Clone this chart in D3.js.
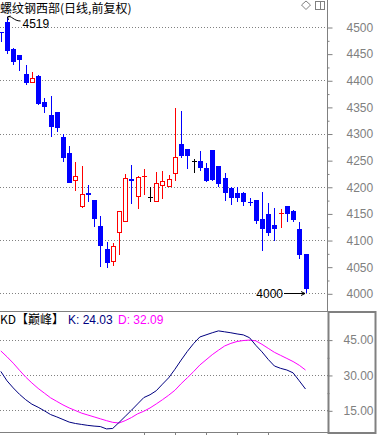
<!DOCTYPE html>
<html>
<head>
<meta charset="utf-8">
<script src="https://cdn.jsdelivr.net/npm/d3@7"></script>
<style>
body { margin: 0; background: #fff; }
svg { display: block; }
</style>
</head>
<body>
<svg id="chart" width="377" height="435"></svg>
<script>
// Daily candles, oldest first
var opens  = [4490,4510,4458,4447,4412,4394,4408,4359,4335,4341,4294,4264,4210,4162,4188,4175,4126,4083,4059,4114,
              4134,4215,4180,4219,4180,4171,4201,4200,4224,4281,4271,4249,4249,4235,4269,4239,4216,4197,4189,4189,
              4172,4175,4140,4149,4128,4149,4163,4155,4121,4073];
var highs  = [4491,4519,4461,4447,4429,4416,4409,4366,4370,4341,4300,4277,4247,4239,4203,4175,4145,4096,4094,4155,
              4224,4241,4221,4233,4200,4228,4230,4222,4348,4342,4271,4253,4267,4245,4269,4239,4225,4200,4200,4190,
              4178,4176,4191,4169,4160,4158,4163,4157,4133,4073];
var lows   = [4472,4450,4429,4418,4391,4394,4354,4339,4293,4303,4247,4207,4193,4161,4171,4125,4050,4048,4052,4072,
              4134,4168,4158,4184,4172,4171,4177,4200,4210,4254,4234,4225,4230,4209,4211,4200,4174,4165,4172,4163,
              4163,4130,4080,4108,4099,4123,4133,4134,4064,4000];
var closes = [4489,4454,4435,4438,4395,4404,4355,4350,4313,4310,4254,4208,4220,4186,4185,4140,4089,4057,4089,4155,
              4216,4210,4218,4220,4180,4208,4210,4214,4255,4258,4258,4249,4235,4210,4213,4205,4188,4178,4178,4172,
              4169,4135,4121,4114,4121,4151,4149,4138,4071,4009];

// KD indicator
var kValues = [31.5,27.5,24.5,21.8,19.5,17.6,16.3,14.8,13.2,12.2,11.1,10.0,9.4,9.0,8.6,8.3,8.1,7.1,7.3,9.8,
               12.4,15.0,17.7,20.4,21.6,23.3,26.1,28.8,32.4,36.3,40.0,43.3,46.1,47.0,47.9,48.7,48.3,47.9,47.4,47.0,
               45.8,42.6,39.8,36.6,33.8,32.8,32.1,30.9,27.5,24.03];
var dValues = [40.2,37.7,35.0,32.0,29.1,26.6,24.3,22.3,20.3,18.8,17.3,16.0,14.9,13.8,13.0,12.2,11.4,10.6,9.9,9.6,
               10.6,11.9,13.5,14.6,16.0,17.7,19.5,21.4,23.5,26.3,28.8,31.4,34.2,36.4,38.6,40.5,42.3,43.4,44.2,44.6,
               44.8,44.5,43.0,41.3,39.6,38.3,37.0,35.7,34.1,32.09];

var priceTicks = [4000,4050,4100,4150,4200,4250,4300,4350,4400,4450,4500];
var priceMinor = [4025,4075,4125,4175,4225,4275,4325,4375,4425,4475];
var priceGrid  = [4000,4100,4200,4300,4400,4500];
var kdTicks = [15,30,45];
var kdMinor = [22.5,37.5];
var timeTicks = [23,28,33,38,43];   // candle index of the date marks

var title = "螺纹钢西部(日线,前复权)";

var grey = "#808080";
var svg = d3.select("#chart");
var axisX = 328;      // right price axis
var splitY = 311;     // border between the two panels

var x = d3.scaleLinear().domain([0, opens.length - 1]).range([0.8, 305.5]);
var y = d3.scaleLinear().domain([4000, 4500]).range([293.3, 27]);
var yk = d3.scaleLinear().domain([15, 45]).range([410.3, 339.6]);

svg.append("defs").append("clipPath").attr("id", "clipMain")
	.append("rect").attr("x", 0).attr("y", 0).attr("width", axisX).attr("height", splitY);
svg.select("defs").append("clipPath").attr("id", "clipKd")
	.append("rect").attr("x", 0).attr("y", splitY).attr("width", axisX).attr("height", 122);

//Dotted grids
svg.append("g").selectAll("line").data(priceGrid).enter().append("line")
	.attr("x1", 0).attr("x2", axisX)
	.attr("y1", d=>Math.round(y(d)) + 0.5).attr("y2", d=>Math.round(y(d)) + 0.5)
	.attr("stroke", grey).attr("stroke-dasharray", "1,2");
svg.append("g").selectAll("line").data(kdTicks).enter().append("line")
	.attr("x1", 0).attr("x2", axisX)
	.attr("y1", d=>Math.round(yk(d)) + 0.5).attr("y2", d=>Math.round(yk(d)) + 0.5)
	.attr("stroke", grey).attr("stroke-dasharray", "1,2");

//Candles
var main = svg.append("g").attr("clip-path", "url(#clipMain)");
main.selectAll(".candle").data(d3.range(opens.length)).enter().append("g")
	.attr("class", "candle")
	.each(function(i) {
		var g = d3.select(this);
		var cx = Math.round(x(i));
		var o = opens[i], c = closes[i];
		var col = c > o ? "#ff0000" : (c < o ? "#0000ff" : "#000000");
		var top = Math.round(y(Math.max(o, c)));
		var bot = Math.round(y(Math.min(o, c)));
		g.append("line")
			.attr("x1", cx + 0.5).attr("x2", cx + 0.5)
			.attr("y1", Math.round(y(highs[i]))).attr("y2", Math.round(y(lows[i])))
			.attr("stroke", col);
		if (bot - top < 2) {
			g.append("rect").attr("x", cx - 2).attr("y", top)
				.attr("width", 5).attr("height", Math.max(1, bot - top)).attr("fill", col);
		} else if (c > o) {
			g.append("rect").attr("x", cx - 1.5).attr("y", top + 0.5)
				.attr("width", 4).attr("height", bot - top - 1)
				.attr("fill", "#fff").attr("stroke", col);
		} else {
			g.append("rect").attr("x", cx - 2).attr("y", top)
				.attr("width", 5).attr("height", bot - top).attr("fill", col);
		}
	});

//High / low marks
var iHigh = highs.indexOf(d3.max(highs));
var iLow = lows.indexOf(d3.min(lows));
var hx = Math.round(x(iHigh)) + 0.5, hy = Math.round(y(highs[iHigh]));
main.append("path")
	.attr("d", "M" + hx + "," + hy + " l3,-1 M" + hx + "," + hy + " l1,3 M" + hx + "," + hy +
		" c4,-2 6,4 13,4")
	.attr("fill", "none").attr("stroke", "#000");
main.append("text").attr("x", hx + 15).attr("y", hy + 11)
	.attr("font-family", "Liberation Sans, Arial, sans-serif").attr("font-size", 12)
	.text(d3.max(highs));
var lx = Math.round(x(iLow)) - 1, ly = Math.round(y(lows[iLow])) + 0.5;
main.append("path")
	.attr("d", "M" + (lx - 21) + "," + ly + " H" + lx + " M" + (lx - 4) + "," + (ly - 2) + " L" + lx + "," + ly +
		" L" + (lx - 4) + "," + (ly + 2))
	.attr("fill", "none").attr("stroke", "#000");
main.append("text").attr("x", lx - 22).attr("y", ly + 4).attr("text-anchor", "end")
	.attr("font-family", "Liberation Sans, Arial, sans-serif").attr("font-size", 12)
	.text(d3.min(lows));

//KD lines
var kd = svg.append("g").attr("clip-path", "url(#clipKd)");
var line = d3.line().x((d, i)=>x(i)).y(d=>yk(d));
kd.append("path").datum(dValues).attr("d", line).attr("fill", "none").attr("stroke", "#ff00ff");
kd.append("path").datum(kValues).attr("d", line).attr("fill", "none").attr("stroke", "#000080");

//Frame lines
svg.append("line").attr("x1", axisX - 0.5).attr("x2", axisX - 0.5).attr("y1", 0).attr("y2", splitY)
	.attr("stroke", grey);
svg.append("line").attr("x1", 0).attr("x2", axisX).attr("y1", splitY + 0.5).attr("y2", splitY + 0.5)
	.attr("stroke", grey);
svg.append("line").attr("x1", 0).attr("x2", axisX).attr("y1", 432.5).attr("y2", 432.5)
	.attr("stroke", grey);
svg.append("g").selectAll("line").data(timeTicks).enter().append("line")
	.attr("x1", d=>Math.round(x(d)) + 0.5).attr("x2", d=>Math.round(x(d)) + 0.5)
	.attr("y1", 432).attr("y2", 435).attr("stroke", grey);
svg.append("rect").attr("x", axisX + 0.5).attr("y", splitY + 1).attr("width", 47).attr("height", 121)
	.attr("fill", "none").attr("stroke", grey).attr("stroke-width", 2);

//Axes
function styleAxis(g) {
	g.select(".domain").remove();
	g.selectAll(".tick line").attr("stroke", grey);
	g.selectAll(".tick text").attr("fill", grey)
		.attr("font-family", "Liberation Sans, Arial, sans-serif").attr("font-size", 12);
}
svg.append("g").attr("transform", "translate(" + (axisX - 0.5) + ",0.5)")
	.call(d3.axisRight(y).tickValues(priceTicks).tickSize(5).tickPadding(14).tickFormat(d3.format("d")))
	.call(styleAxis);
svg.append("g").attr("transform", "translate(" + (axisX - 0.5) + ",0.5)")
	.call(d3.axisRight(y).tickValues(priceMinor).tickSize(2).tickFormat(""))
	.call(styleAxis);
svg.append("g").attr("transform", "translate(" + (axisX - 0.5) + ",0.5)")
	.call(d3.axisRight(yk).tickValues(kdTicks).tickSize(5).tickPadding(11).tickFormat(d3.format(".2f")))
	.call(styleAxis);
svg.append("g").attr("transform", "translate(" + (axisX - 0.5) + ",0.5)")
	.call(d3.axisRight(yk).tickValues(kdMinor).tickSize(2).tickFormat(""))
	.call(styleAxis);

//Titles
svg.append("text").attr("x", 0).attr("y", 12.5)
	.attr("font-family", "Noto Sans CJK SC, sans-serif").attr("font-size", 12)
	.text(title);
var kdTitle = svg.append("text").attr("x", 0).attr("y", 324)
	.attr("font-family", "Noto Sans CJK SC, sans-serif").attr("font-size", 12);
kdTitle.append("tspan").text("KD【巅峰】");
kdTitle.append("tspan").attr("x", 68).attr("fill", "#000080").attr("font-family", "Liberation Sans, Arial, sans-serif")
	.text("K: " + d3.format(".2f")(kValues[kValues.length - 1]));
kdTitle.append("tspan").attr("x", 118).attr("fill", "#ff00ff").attr("font-family", "Liberation Sans, Arial, sans-serif")
	.text("D: " + d3.format(".2f")(dValues[dValues.length - 1]));

//Small icons top right
svg.append("path").attr("d", "M306,1 L310.5,5 L306,9.5 L301.5,5 Z").attr("fill", "none").attr("stroke", grey);
svg.append("rect").attr("x", 315.5).attr("y", 1.5).attr("width", 9).attr("height", 8)
	.attr("fill", "none").attr("stroke", grey);
svg.append("line").attr("x1", 320.5).attr("x2", 320.5).attr("y1", 1.5).attr("y2", 9.5).attr("stroke", grey);
</script>
</body>
</html>
